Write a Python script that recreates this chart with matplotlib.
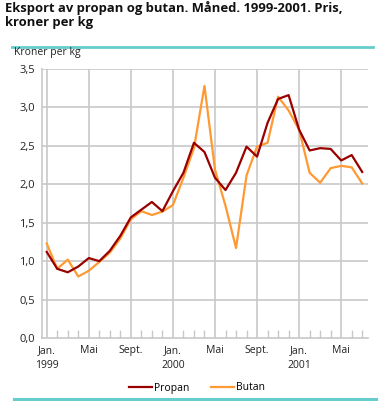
import numpy as np
import matplotlib
matplotlib.use("Agg")
import matplotlib.pyplot as plt
from matplotlib.lines import Line2D

plt.rcParams["font.family"] = ["Open Sans", "DejaVu Sans"]

# monthly prices, Jan 1999 - Jul 2001 (kroner per kg)
propan = [1.12, 0.90, 0.855, 0.93, 1.04, 1.00, 1.135, 1.33, 1.57, 1.67, 1.77, 1.65,
          1.91, 2.15, 2.54, 2.42, 2.085, 1.925, 2.15, 2.49, 2.36, 2.80, 3.11, 3.16,
          2.71, 2.44, 2.47, 2.46, 2.31, 2.38, 2.16]
butan = [1.23, 0.90, 1.02, 0.80, 0.875, 0.99, 1.11, 1.295, 1.545, 1.65, 1.60, 1.645,
         1.73, 2.085, 2.47, 3.28, 2.19, 1.72, 1.17, 2.115, 2.49, 2.54, 3.14, 2.96,
         2.71, 2.15, 2.02, 2.21, 2.24, 2.22, 2.01]
tick_pos = [0, 4, 8, 12, 16, 20, 24, 28]
tick_labels = ["Jan.\n1999", "Mai", "Sept.", "Jan.\n2000", "Mai", "Sept.", "Jan.\n2001", "Mai"]
y_ticks = [0.0, 0.5, 1.0, 1.5, 2.0, 2.5, 3.0, 3.5]

grid_c = "#c8c8c8"
text_c = "#222222"
teal = "#66cccc"

fig = plt.figure(figsize=(3.85, 4.01), dpi=100)
ax = fig.add_axes([42/385, 63/401, 326/385, 269/401])

x = np.arange(len(propan))
ax.plot(x, propan, color="#990000", lw=1.6, zorder=4)
ax.plot(x, butan, color="#ff9933", lw=1.6, zorder=3)

ax.set_xlim(-0.45, 30.55)
ax.set_ylim(0, 3.5)
ax.set_yticks(y_ticks)
ax.set_yticklabels([f"{v:.1f}".replace(".", ",") for v in y_ticks])
ax.set_xticks(tick_pos)
ax.set_xticklabels(tick_labels, ha="center", va="top", linespacing=1.55)
ax.set_xticks(x, minor=True)

for v in y_ticks[1:]:
    ax.axhline(v, color=grid_c, lw=1.2, zorder=1)
for p in tick_pos:
    ax.axvline(p, color=grid_c, lw=1.2, zorder=1)

for s in ["top", "right"]:
    ax.spines[s].set_visible(False)
for s in ["left", "bottom"]:
    ax.spines[s].set_color(grid_c)
    ax.spines[s].set_linewidth(1.2)

ax.tick_params(axis="y", length=0, pad=5, labelsize=8, labelcolor=text_c)
ax.tick_params(axis="x", which="major", length=0, pad=5, labelsize=7.5, labelcolor=text_c)
ax.tick_params(axis="x", which="minor", direction="in", length=6, color=grid_c, width=1)

fig.text(5/385, 1 - 1/401, "Eksport av propan og butan. Måned. 1999-2001. Pris,\nkroner per kg",
         ha="left", va="top", fontsize=9.4, fontweight="bold", color="#111111", linespacing=1.1)
fig.add_artist(Line2D([12/385, 373/385], [1 - 47/401, 1 - 47/401], color=teal, lw=2))
fig.text(14/385, 1 - 53/401, "Kroner per kg", ha="left", va="center", fontsize=7.5, color=text_c)

handles = [Line2D([], [], color="#990000", lw=1.6), Line2D([], [], color="#ff9933", lw=1.6)]
fig.legend(handles, ["Propan", "Butan"], loc="center", bbox_to_anchor=(197/385, 1 - 388/401),
           ncol=2, frameon=False, fontsize=7.5, handlelength=2.2, handletextpad=0.15,
           columnspacing=2.1)
fig.add_artist(Line2D([14/385, 376/385], [1 - 399/401, 1 - 399/401], color=teal, lw=2.2))

fig.savefig("out.png", dpi=100)
